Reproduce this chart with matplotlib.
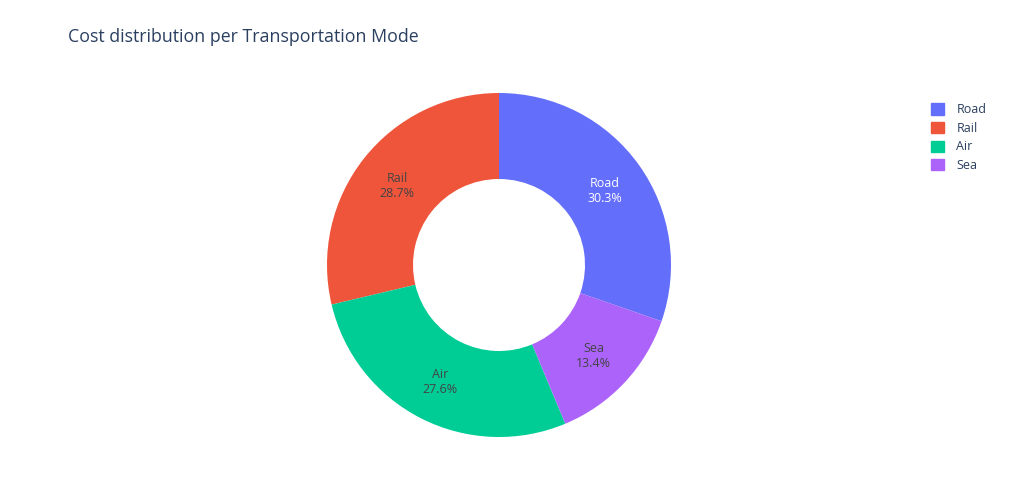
import matplotlib
matplotlib.use("Agg")
import matplotlib.pyplot as plt
import numpy as np

plt.rcParams['font.family'] = ['Open Sans', 'DejaVu Sans']

modes = ["Road", "Rail", "Air", "Sea"]
share = [30.3, 28.7, 27.6, 13.4]
colors = ["#636EFA", "#EF553B", "#00CC96", "#AB63FA"]
text_colors = ["white", "#444444", "#444444", "#444444"]

W, H = 1013, 488
fig = plt.figure(figsize=(W / 100, H / 100), dpi=100)

# pie centre and radius in pixels
cx, cy, r = 499, 265, 172
ax = fig.add_axes([(cx - r) / W, (H - cy - r) / H, 2 * r / W, 2 * r / H])

total = sum(share)
start = 90 - 360 * share[0] / total
wedges, _ = ax.pie(share, colors=colors, startangle=start, counterclock=True,
                   radius=1, wedgeprops=dict(width=0.5, linewidth=0))
ax.set_xlim(-1, 1)
ax.set_ylim(-1, 1)

# labels inside the ring
for w, m, v, tc in zip(wedges, modes, share, text_colors):
    mid = np.deg2rad((w.theta1 + w.theta2) / 2)
    ax.text(0.755 * np.cos(mid), 0.755 * np.sin(mid) - 0.01, f"{m}\n{v / total * 100:.1f}%",
            ha="center", va="center", color=tc, fontsize=9, linespacing=1.2)

fig.text(68 / W, 1 - 37 / H, "Cost distribution per Transportation Mode",
         fontsize=12.8, color="#2a3f5f", ha="left", va="center")

# legend
handles = [plt.Rectangle((0, 0), 1, 1, color=c) for c in colors]
fig.legend(handles, modes, loc="upper left", bbox_to_anchor=(920 / W, 1 - 92 / H),
           frameon=False, fontsize=9, handlelength=1.0, handleheight=1.0,
           handletextpad=1.0, labelspacing=0.45, labelcolor="#2a3f5f")

fig.savefig("out.png", dpi=100)
